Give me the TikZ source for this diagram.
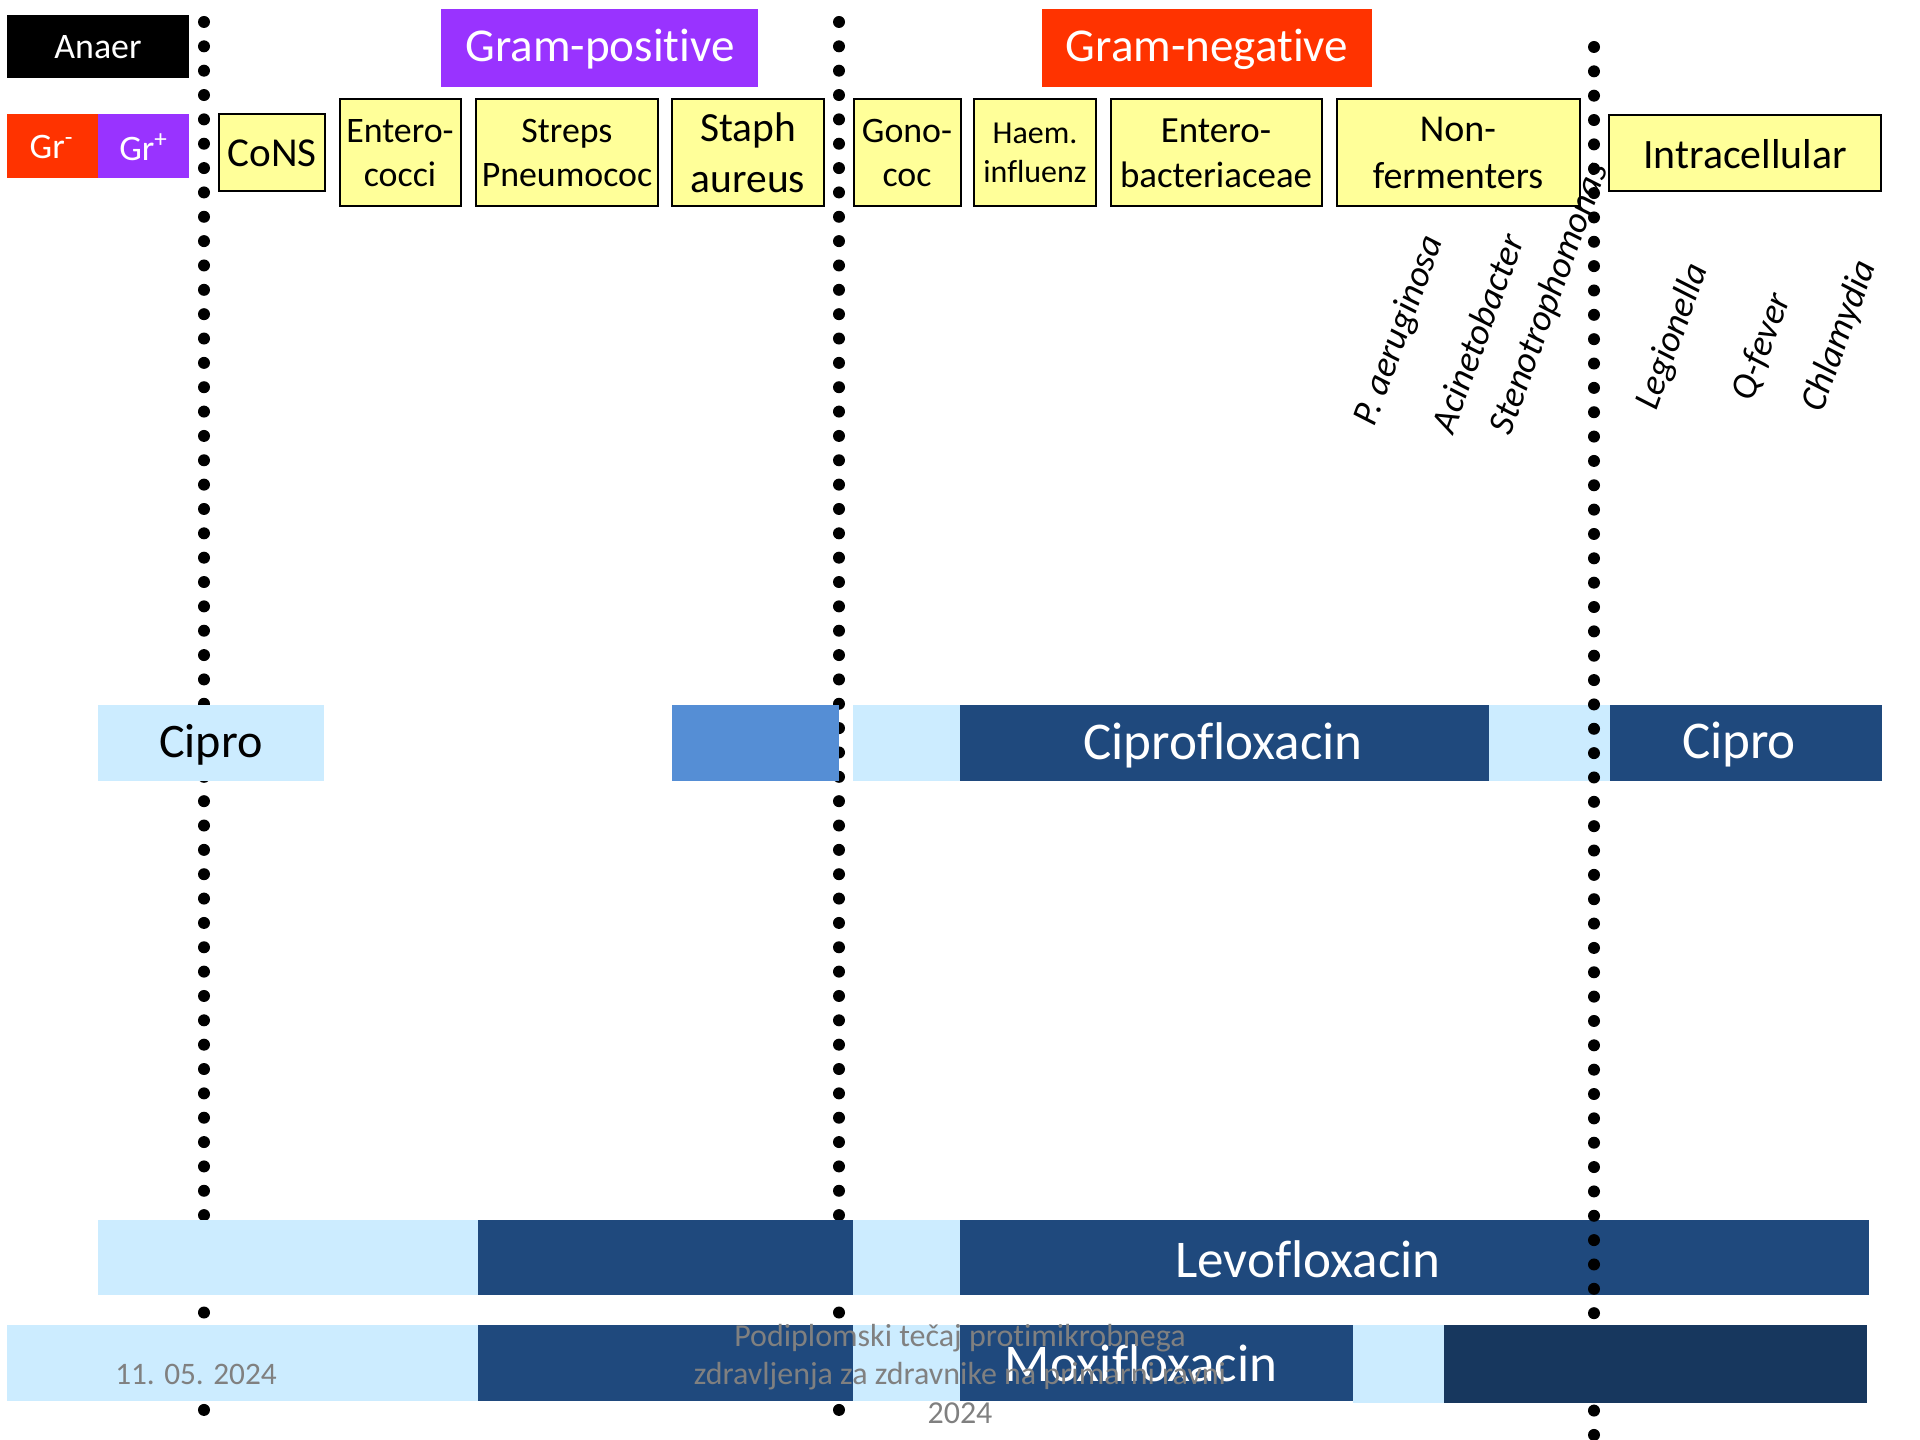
\documentclass[tikz,border=0pt]{standalone}
\usepackage{fontspec}
\setmainfont[Ligatures=NoCommon]{Carlito}
\usetikzlibrary{positioning}
\definecolor{gramneg}{RGB}{255,51,0}
\definecolor{grampos}{RGB}{153,51,255}
\definecolor{bugyellow}{RGB}{255,255,153}
\definecolor{barlight}{RGB}{204,236,255}
\definecolor{barmid}{RGB}{85,142,213}
\definecolor{bardark}{RGB}{31,73,125}
\definecolor{bardeep}{RGB}{23,55,94}

\begin{document}
\begin{tikzpicture}[x=0.1mm,y=-0.1mm,
  bugbox/.style={draw=black,line width=0.6pt,fill=bugyellow},
  dotline/.style={line width=1.2mm,line cap=round,dash pattern=on 0pt off 2.435mm},
  species/.style={rotate=70,font=\fontsize{10.5}{12.8}\selectfont\itshape},
  barlabel/.style={text=white,font=\fontsize{15.1}{18}\selectfont},
  footer/.style={text=gray,align=center,font=\fontsize{9.1}{11}\selectfont}]
\useasboundingbox (0,0) rectangle (1920,1440);
\draw[dotline] (204,22) -- (204,1412);
\draw[dotline] (839,22) -- (839,1412);
\fill[black] (7,15) rectangle (189,78);
\node[text=white,font=\fontsize{10.2}{12.4}\selectfont] (anaer) at (98,47) {Anaer};
\fill[gramneg] (7,114) rectangle (98,178);
\fill[grampos] (98,114) rectangle (189,178);
\node[text=white,font=\fontsize{10.2}{12.4}\selectfont] (grneg) at (52,147) {Gr\textsuperscript{-}};
\node[text=white,font=\fontsize{10.2}{12.4}\selectfont] (grpos) at (144,147) {Gr\textsuperscript{+}};
\fill[grampos] (441,9) rectangle (758,87);
\node[text=white,font=\fontsize{13.4}{16}\selectfont] (grampos) at (600,49) {Gram-positive};
\fill[gramneg] (1042,9) rectangle (1372,87);
\node[text=white,font=\fontsize{13.4}{16}\selectfont] (gramneg) at (1207,49) {Gram-negative};
\draw[bugbox] (219,114) rectangle (325,191);
\node[font=\fontsize{11.7}{14.2}\selectfont] (cons) at (272,153) {CoNS};
\draw[bugbox] (340,99) rectangle (461,206);
\node[align=center,font=\fontsize{10.2}{12.5}\selectfont] (enteroc) at (400,153) {Entero-\\cocci};
\draw[bugbox] (476,99) rectangle (658,206);
\node[align=center,font=\fontsize{10.2}{12.5}\selectfont] (streps) at (567,153) {Streps\\Pneumococ};
\draw[bugbox] (672,99) rectangle (824,206);
\node[align=center,font=\fontsize{11.8}{14.4}\selectfont] (staph) at (748,153) {Staph\\aureus};
\draw[bugbox] (854,99) rectangle (961,206);
\node[align=center,font=\fontsize{10.2}{12.5}\selectfont] (gono) at (907,153) {Gono-\\coc};
\draw[bugbox] (974,99) rectangle (1096,206);
\node[align=center,font=\fontsize{9.1}{11.1}\selectfont] (haem) at (1035,153) {Haem.\\influenz};
\draw[bugbox] (1111,99) rectangle (1322,206);
\node[align=center,font=\fontsize{10.5}{12.8}\selectfont] (enterob) at (1216,153) {Entero-\\bacteriaceae};
\draw[bugbox] (1337,99) rectangle (1580,206);
\node[align=center,font=\fontsize{10.8}{13.2}\selectfont] (nonferm) at (1458,153) {Non-\\fermenters};
\draw[bugbox] (1609,115) rectangle (1881,191);
\node[font=\fontsize{11.9}{14.5}\selectfont] (intra) at (1745,154) {Intracellular};
\node[species] (paer) at (1400,331) {P. aeruginosa};
\node[species] (acin) at (1477,333) {Acinetobacter};
\node[species] (steno) at (1550,299) {Stenotrophomonas};
\node[species] (legio) at (1673,337) {Legionella};
\node[species] (qfev) at (1762,347) {Q-fever};
\node[species] (chlam) at (1840,336) {Chlamydia};
\fill[barlight] (98,705) rectangle (324,781);
\fill[barmid] (672,705) rectangle (839,781);
\fill[barlight] (853,705) rectangle (960,781);
\fill[bardark] (960,705) rectangle (1489,781);
\fill[barlight] (1489,705) rectangle (1610,781);
\fill[bardark] (1610,705) rectangle (1882,781);
\node[font=\fontsize{13.7}{16.5}\selectfont] (cipro) at (211,745) {Cipro};
\node[barlabel] (ciproflox) at (1223,745) {Ciprofloxacin};
\node[barlabel] (ciproR) at (1739,745) {Cipro};
\fill[barlight] (98,1220) rectangle (478,1295);
\fill[bardark] (478,1220) rectangle (853,1295);
\fill[barlight] (853,1220) rectangle (960,1295);
\fill[bardark] (960,1220) rectangle (1869,1295);
\node[barlabel] (levo) at (1308,1259) {Levofloxacin};
\draw[dotline] (1594,47) -- (1594,1437);
\fill[barlight] (7,1325) rectangle (478,1401);
\fill[bardark] (478,1325) rectangle (853,1401);
\fill[barlight] (853,1325) rectangle (960,1401);
\fill[bardark] (960,1325) rectangle (1353,1401);
\fill[barlight] (1353,1325) rectangle (1444,1403);
\fill[bardeep] (1444,1325) rectangle (1867,1403);
\node[barlabel] (moxi) at (1141,1363) {Moxifloxacin};
\node[footer,font=\fontsize{8.9}{11}\selectfont] (date) at (196,1374) {11. 05. 2024};
\node[footer] (course) at (960,1374) {Podiplomski tečaj protimikrobnega\\zdravljenja za zdravnike na primarni ravni\\2024};
\end{tikzpicture}
\end{document}
